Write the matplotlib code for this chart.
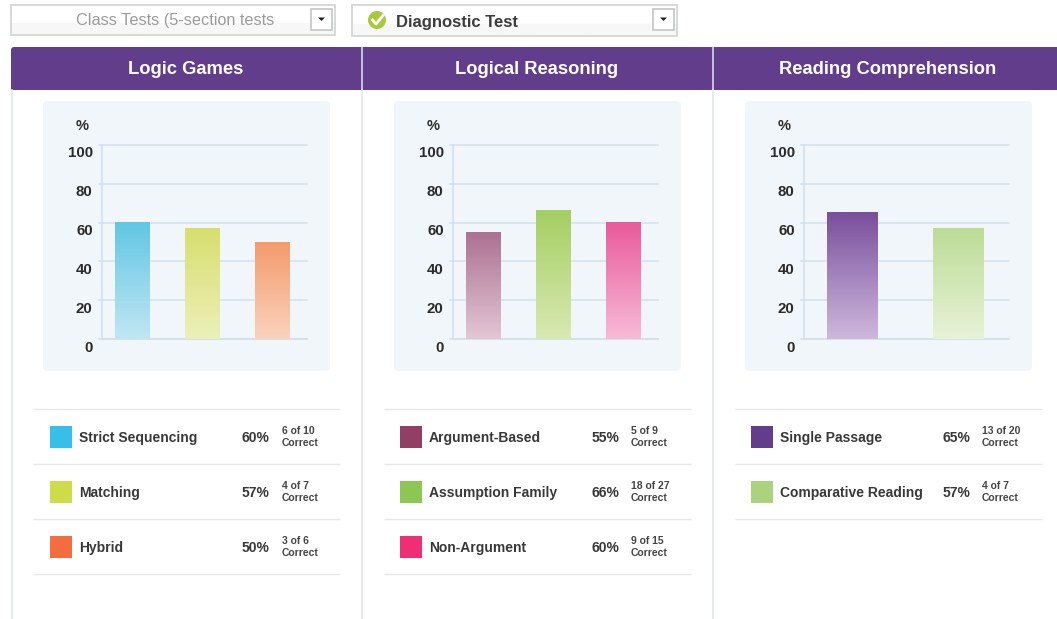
import numpy as np
import matplotlib
matplotlib.use('Agg')
import matplotlib.pyplot as plt
from matplotlib.colors import to_rgb
from matplotlib.patches import Rectangle, FancyBboxPatch, Circle, Polygon
from matplotlib.transforms import ScaledTranslation

plt.rcParams['font.family'] = ['Liberation Sans', 'DejaVu Sans']

W, H = 1057, 619

sections = ['Logic Games', 'Logical Reasoning', 'Reading Comprehension']
categories = [['Strict Sequencing', 'Matching', 'Hybrid'],
              ['Argument-Based', 'Assumption Family', 'Non-Argument'],
              ['Single Passage', 'Comparative Reading']]
percents = [[60, 57, 50], [55, 66, 60], [65, 57]]
correct = [['6 of 10', '4 of 7', '3 of 6'],
           ['5 of 9', '18 of 27', '9 of 15'],
           ['13 of 20', '4 of 7']]
y_ticks = [0, 20, 40, 60, 80, 100]

swatch_colors = [['#36bfe8', '#cfdc4a', '#f46d3f'],
                 ['#923f66', '#8cc653', '#ee2f75'],
                 ['#613d8c', '#abd27c']]
bar_top = [['#62c7e4', '#d6df6e', '#f49b6c'],
           ['#ad7192', '#a4cf62', '#ea5a9c'],
           ['#7a4f9d', '#bcdc96']]
bar_bottom = [['#c0e6f3', '#ebf0b8', '#fad2bd'],
              ['#e3c6d4', '#d9e9b2', '#f8bad7'],
              ['#cdb8dc', '#e8f2d8']]

PURPLE = '#613d8c'
GRID = '#d3e0ec'
DARK = '#2b2b2b'

fig = plt.figure(figsize=(W / 100, H / 100), dpi=100, facecolor='white')

# page furniture, in pixel coordinates
bg = fig.add_axes([0, 0, 1, 1], zorder=0)
bg.set_xlim(0, W)
bg.set_ylim(H, 0)
bg.axis('off')


def dropdown(x0, x1, y0, y1, bx):
    grad = np.linspace(0, 1, 30).reshape(-1, 1)
    grad = np.where(grad < 0.62, 1.0, 0.965)
    bg.imshow(grad, extent=[x0, x1, y1, y0], aspect='auto', cmap='gray', vmin=0, vmax=1, zorder=1)
    bg.add_patch(Rectangle((x0, y0), x1 - x0, y1 - y0, fc='none', ec='#d4d6d6', lw=1.3, zorder=2))
    bg.add_patch(Rectangle((bx, 9), 21, 21, fc='white', ec='#c4c6c6', lw=1.2, zorder=2))
    cx = bx + 10.5
    bg.add_patch(Polygon([(cx - 3.5, 17.5), (cx + 3.5, 17.5), (cx, 21)], fc='#222222', ec='none', zorder=3))


dropdown(11, 335, 5, 35, 311)
dropdown(352, 677, 5, 36, 653)
bg.set_xlim(0, W)
bg.set_ylim(H, 0)
bg.text(175.5, 20.5, 'Class Tests (5-section tests', fontsize=11.7, color='#9b9b9b', ha='center', va='center', zorder=4)
bg.add_patch(Circle((377, 20), 9, fc='#a9c93d', ec='none', zorder=3))
bg.plot([372.5, 376, 383], [20, 24, 15.5], color='white', lw=2, zorder=4)
bg.text(396, 22.5, 'Diagnostic Test', fontsize=12, color='#3c3c3c', fontweight='bold', ha='left', va='center', zorder=4)

# header band and column rules
bg.add_patch(FancyBboxPatch((11, 47), 1070, 20, boxstyle='round,pad=0,rounding_size=3', fc=PURPLE, ec='none', zorder=1))
bg.add_patch(Rectangle((11, 55), 1060, 35, fc=PURPLE, ec='none', zorder=1))
bg.plot([11.5, 11.5], [90, H], color='#e3e6ea', lw=1.2, zorder=2)
for x in (362, 713):
    bg.plot([x, x], [47, 90], color='#e6e2ee', lw=1.1, zorder=2)
    bg.plot([x, x], [90, H], color='#e3e6ea', lw=1.2, zorder=2)

header_cx = [186, 537, 888]
panel_dx = [0, 351, 702]
row_dx = [0, 350, 701]
small_dx = [0, 349, 700]

for i, name in enumerate(sections):
    dx = panel_dx[i]
    bg.text(header_cx[i], 69.5, name, color='white', fontsize=13.2, fontweight='bold', ha='center', va='center', zorder=3)
    bg.add_patch(FancyBboxPatch((43 + dx, 101), 287, 270, boxstyle='round,pad=0,rounding_size=5',
                                fc='#f0f6f9', ec='none', zorder=1))
    bg.text(82 + dx, 125.5, '%', fontsize=10.5, color=DARK, fontweight='bold', ha='center', va='center', zorder=3)

    # bar chart
    ax = fig.add_axes([(102 + dx) / W, 1 - 339 / H, 205 / W, 194 / H], zorder=2)
    ax.patch.set_alpha(0)
    vals = percents[i]
    pos = np.arange(len(vals))
    width = 0.49 if len(vals) == 3 else 0.48
    bars = ax.bar(pos, vals, width=width, color='none', zorder=3)
    for b, top, bot in zip(bars, bar_top[i], bar_bottom[i]):
        ramp = np.linspace(0, 1, 64)[:, None, None]
        img = np.array(to_rgb(top))[None, None, :] * (1 - ramp) + np.array(to_rgb(bot))[None, None, :] * ramp
        ax.imshow(img, extent=[b.get_x(), b.get_x() + b.get_width(), 0, b.get_height()],
                  aspect='auto', zorder=3, origin='upper')
    if len(vals) == 3:
        ax.set_xlim(-0.43, 2.50)
    else:
        ax.set_xlim(-0.46, 1.48)
    ax.set_ylim(0, 100)
    ax.set_xticks([])
    ax.set_yticks(y_ticks)
    ax.set_yticklabels([str(t) for t in y_ticks], fontsize=10.8, fontweight='bold', color=DARK)
    ax.tick_params(axis='y', length=3, width=1.1, color=GRID, pad=3.7)
    offset = ScaledTranslation(0, -7 / 100, fig.dpi_scale_trans)
    for lab in ax.get_yticklabels():
        lab.set_transform(lab.get_transform() + offset)
    ax.grid(axis='y', color=GRID, lw=1.1, zorder=1, clip_on=False)
    ax.set_axisbelow(True)
    for side in ('top', 'right'):
        ax.spines[side].set_visible(False)
    for side in ('left', 'bottom'):
        ax.spines[side].set_color(GRID)
        ax.spines[side].set_linewidth(1.2)

    # legend rows
    n = len(vals)
    for r in range(n + 1):
        y = 409 + 55 * r
        bg.plot([33 + dx, 340 + dx], [y, y], color='#e6e7e7', lw=1.0, zorder=2, solid_capstyle='butt')
    rdx = row_dx[i]
    for r in range(n):
        cy = 437 + 55 * r
        bg.add_patch(Rectangle((50 + rdx, cy - 11), 22, 22, fc=swatch_colors[i][r], ec='none', zorder=3))
        bg.text(79 + rdx, cy + 0.7, categories[i][r], fontsize=10, fontweight='bold', color='#383838',
                ha='left', va='center', zorder=3)
        bg.text(269 + rdx, cy + 0.7, '%d%%' % vals[r], fontsize=10, fontweight='bold', color='#383838',
                ha='right', va='center', zorder=3)
        bg.text(282 + small_dx[i], cy - 6, correct[i][r], fontsize=7.5, fontweight='bold', color='#444444',
                ha='left', va='center', zorder=3)
        bg.text(282 + small_dx[i], cy + 6, 'Correct', fontsize=7.5, fontweight='bold', color='#444444',
                ha='left', va='center', zorder=3)

fig.savefig('out.png', dpi=100)
